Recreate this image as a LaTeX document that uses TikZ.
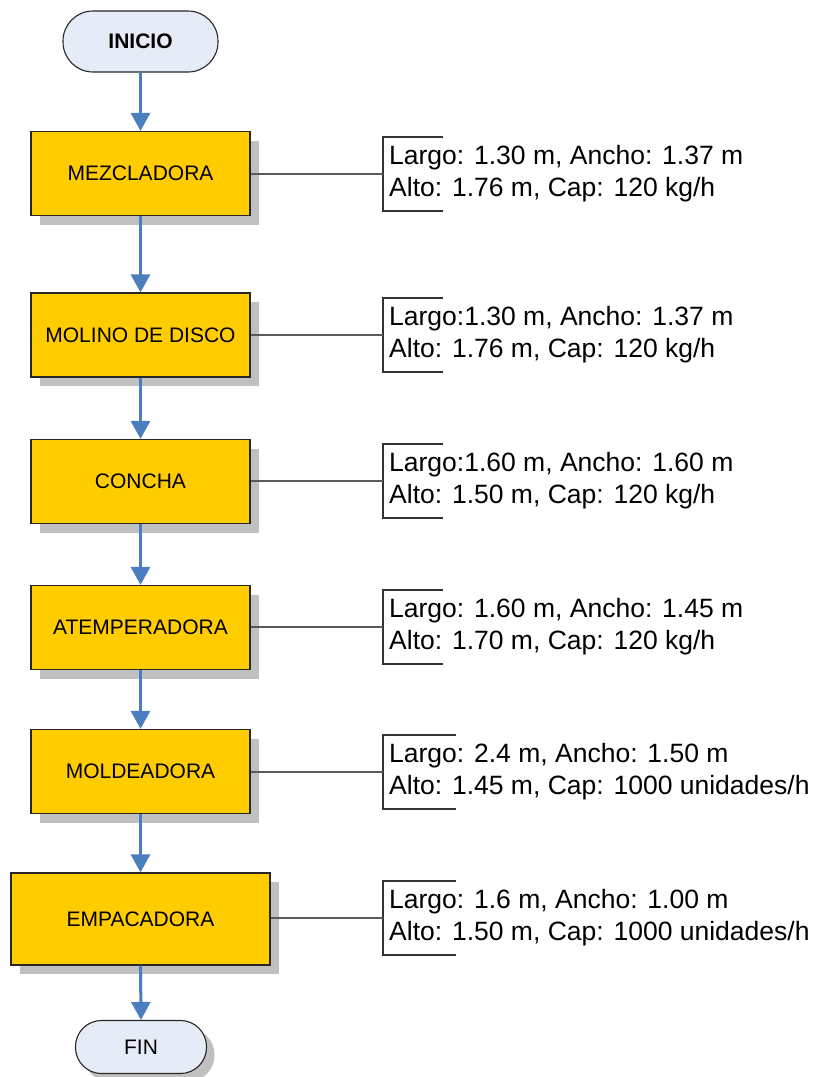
\documentclass[tikz,border=0pt]{standalone}
\usepackage{fontspec}
\setmainfont{Liberation Sans}
\usetikzlibrary{arrows.meta,shadows}
\definecolor{boxfill}{HTML}{FFCC00}
\definecolor{termfill}{HTML}{E6ECF7}
\definecolor{shadowgray}{HTML}{C0C0C0}
\definecolor{flowblue}{HTML}{4A7EBF}
\definecolor{leadgray}{HTML}{5A5A5A}
\tikzset{
  procbox/.style={draw=black!85, line width=1.2pt, fill=boxfill,
    minimum width=219pt, minimum height=84pt, inner sep=0pt,
    font=\fontsize{21}{25}\selectfont,
    drop shadow={shadow xshift=9pt, shadow yshift=-9pt, fill=shadowgray, opacity=1}},
  termbox/.style={draw=black!85, line width=1.1pt, fill=termfill,
    minimum width=155pt, minimum height=61pt, inner sep=0pt,
    rounded corners=30pt, font=\fontsize{21}{25}\selectfont},
  flow/.style={draw=flowblue, line width=3pt,
    -{Triangle[width=19pt,length=18pt]}},
  lead/.style={draw=leadgray, line width=1.1pt},
  bracket/.style={draw=black!80, line width=1.1pt},
  note/.style={anchor=west, align=left, inner sep=0pt,
    font=\fontsize{26.5}{32}\selectfont}
}
\newcommand{\specnote}[5]{%
  % #1 name, #2 attach point, #3 tick length, #4 first line, #5 second line
  \coordinate (#1) at #2;
  \draw[bracket] ($(#1)+(#3,-37)$) -| ($(#1)+(0,37)$) -- ($(#1)+(#3,37)$);
  \node[note] (#1t) at ($(#1)+(6,0)$) {#4\\#5};
}
\usetikzlibrary{calc}
\begin{document}
\begin{tikzpicture}[x=1pt,y=-1pt]
\useasboundingbox (0,0) rectangle (825,1077);

\node[termbox, font=\fontsize{21}{25}\selectfont\bfseries] (inicio) at (140.5,41.5) {INICIO};

\node[procbox] (mezcla) at (140.5,173.5) {MEZCLADORA};
\node[procbox] (molino) at (140.5,335) {MOLINO DE DISCO};
\node[procbox] (concha) at (140.5,481.5) {CONCHA};
\node[procbox] (atemp)  at (140.5,627.5) {ATEMPERADORA};
\node[procbox] (molde)  at (140.5,771.5) {MOLDEADORA};
\node[procbox, minimum width=259pt, minimum height=92pt] (empaca) at (140.5,919) {EMPACADORA};

\node[termbox, minimum width=131pt, minimum height=53pt, rounded corners=26pt,
  drop shadow={shadow xshift=8pt, shadow yshift=-8pt, fill=shadowgray, opacity=1}] (fin) at (141,1047) {FIN};

% flow arrows
\draw[flow] (inicio.south) -- (mezcla.north);
\draw[flow] (mezcla.south) -- (molino.north);
\draw[flow] (molino.south) -- (concha.north);
\draw[flow] (concha.south) -- (atemp.north);
\draw[flow] (atemp.south) -- (molde.north);
\draw[flow] (molde.south) -- (empaca.north);
\draw[flow] (empaca.south) -- (fin.north);

% equipment specifications
\specnote{n1}{(383,174)}{60}{Largo: 1.30 m, Ancho: 1.37 m}{Alto: 1.76 m, Cap: 120 kg/h}
\specnote{n2}{(383,335)}{60}{Largo:1.30 m, Ancho: 1.37 m}{Alto: 1.76 m, Cap: 120 kg/h}
\specnote{n3}{(383,481)}{60}{Largo:1.60 m, Ancho: 1.60 m}{Alto: 1.50 m, Cap: 120 kg/h}
\specnote{n4}{(383,627)}{60}{Largo: 1.60 m, Ancho: 1.45 m}{Alto: 1.70 m, Cap: 120 kg/h}
\specnote{n5}{(383,772)}{73}{Largo: 2.4 m, Ancho: 1.50 m}{Alto: 1.45 m, Cap: 1000 unidades/h}
\specnote{n6}{(383,918)}{73}{Largo: 1.6 m, Ancho: 1.00 m}{Alto: 1.50 m, Cap: 1000 unidades/h}

\draw[lead] (mezcla.east |- n1) -- (n1);
\draw[lead] (molino.east |- n2) -- (n2);
\draw[lead] (concha.east |- n3) -- (n3);
\draw[lead] (atemp.east |- n4) -- (n4);
\draw[lead] (molde.east |- n5) -- (n5);
\draw[lead] (empaca.east |- n6) -- (n6);
\end{tikzpicture}
\end{document}
